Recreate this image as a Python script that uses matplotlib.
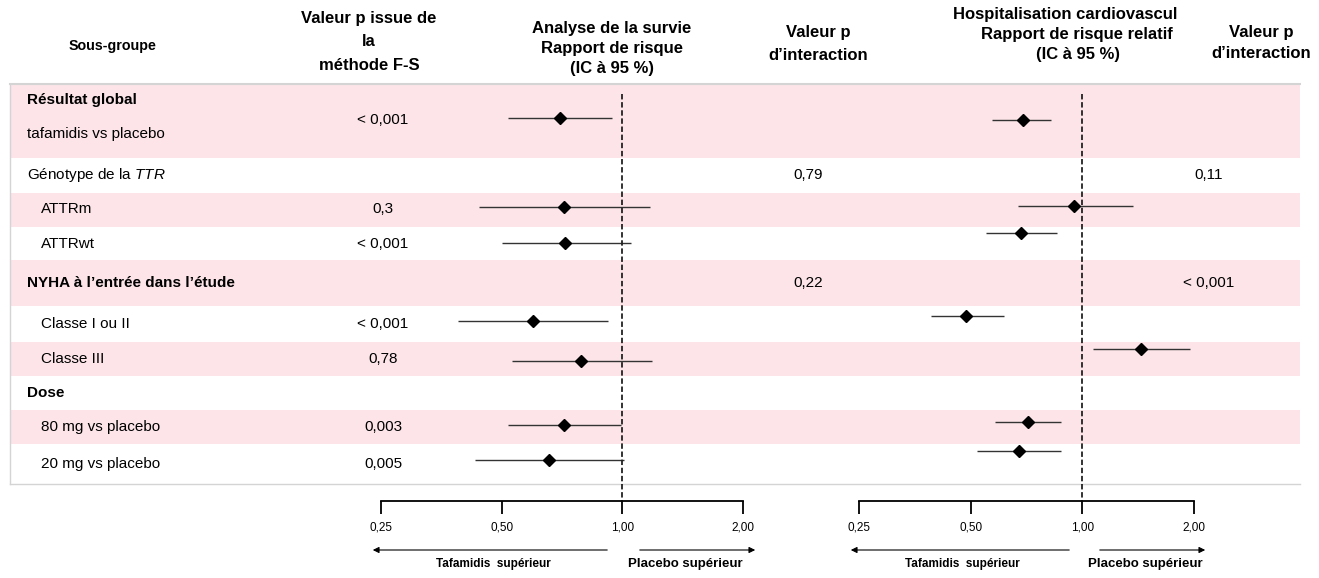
import matplotlib
matplotlib.use("Agg")
import matplotlib.pyplot as plt
from matplotlib.patches import Rectangle
from matplotlib.ticker import NullLocator

plt.rcParams['font.family'] = ['Liberation Sans', 'DejaVu Sans']
plt.rcParams['mathtext.fontset'] = 'custom'
plt.rcParams['mathtext.it'] = 'Liberation Sans:italic'
plt.rcParams['mathtext.rm'] = 'Liberation Sans'

# --- data ---
subgroups = ["tafamidis vs placebo", "ATTRm", "ATTRwt", "Classe I ou II",
             "Classe III", "80 mg vs placebo", "20 mg vs placebo"]
pval_fs = ["< 0,001", "0,3", "< 0,001", "< 0,001", "0,78", "0,003", "0,005"]

surv_hr = [0.70, 0.715, 0.72, 0.60, 0.79, 0.715, 0.655]
surv_lo = [0.52, 0.44, 0.50, 0.39, 0.53, 0.52, 0.43]
surv_hi = [0.94, 1.17, 1.05, 0.92, 1.185, 0.99, 1.01]

hosp_hr = [0.69, 0.95, 0.685, 0.485, 1.44, 0.715, 0.675]
hosp_lo = [0.57, 0.67, 0.55, 0.39, 1.07, 0.58, 0.52]
hosp_hi = [0.825, 1.37, 0.855, 0.615, 1.95, 0.875, 0.875]

group_titles = ["Résultat global", "Génotype de la $\\mathit{TTR}$",
                "NYHA à l’entrée dans l’étude", "Dose"]
surv_int = ["0,79", "0,22"]
hosp_int = ["0,11", "< 0,001"]

ticks = [0.25, 0.5, 1.0, 2.0]
tick_labels = ["0,25", "0,50", "1,00", "2,00"]

# --- layout (pixels) ---
W, H = 1319, 578
TOP, BOTTOM, AXIS_Y = 84, 484, 501
PINK = '#fce4e8'
bands = [(84, 158), (193, 227), (260, 306), (342, 376), (410, 444)]
sub_y = [134, 209, 244, 324, 359, 427, 464]
sub_x = [27, 41, 41, 41, 41, 41, 41]
pval_y = [120, 209, 244, 324, 359, 427, 464]
title_y = [100, 175, 283, 393]
title_bold = [True, False, True, True]
int_y = [175, 283]
surv_y = [118, 207, 243, 321, 361, 425, 460]
hosp_y = [120, 206, 233, 316, 349, 422, 451]

fig = plt.figure(figsize=(W / 100, H / 100), dpi=100)
bg = fig.add_axes([0, 0, 1, 1])
bg.set_xlim(0, W)
bg.set_ylim(H, 0)
bg.axis('off')

for y0, y1 in bands:
    bg.add_patch(Rectangle((10, y0), 1290, y1 - y0, color=PINK, lw=0))
bg.plot([10, 1300], [TOP, TOP], color='#d4d4d4', lw=1.5)
bg.plot([10, 1300], [BOTTOM, BOTTOM], color='#d4d4d4', lw=1)
bg.plot([10, 10], [TOP, BOTTOM], color='#d4d4d4', lw=1)

# headers
hdr = dict(fontsize=12, fontweight='bold', ha='center', va='center')
bg.text(113, 46, "Sous-groupe", fontsize=10.3, fontweight='bold',
        ha='center', va='center')
bg.text(369, 18, "Valeur p issue de", **hdr)
bg.text(369, 42, "la", **hdr)
bg.text(369, 66, "méthode F-S", **hdr)
bg.text(612, 28, "Analyse de la survie", **hdr)
bg.text(612, 48, "Rapport de risque", **hdr)
bg.text(612, 68, "(IC à 95 %)", **hdr)
bg.text(818, 33, "Valeur p", **hdr)
bg.text(818, 55, "d’interaction", **hdr)
bg.text(1065, 15, "Hospitalisation cardiovascul", **hdr)
bg.text(1077, 35, "Rapport de risque relatif", **hdr)
bg.text(1078, 55, "(IC à 95 %)", **hdr)
bg.text(1261, 32, "Valeur p", **hdr)
bg.text(1261, 53, "d’interaction", **hdr)

# row labels
for t, y, b in zip(group_titles, title_y, title_bold):
    bg.text(27, y, t, fontsize=11, fontweight='bold' if b else 'normal',
            ha='left', va='center')
for t, x, y in zip(subgroups, sub_x, sub_y):
    bg.text(x, y, t, fontsize=11, ha='left', va='center')
for p, y in zip(pval_fs, pval_y):
    bg.text(383, y, p, fontsize=11, ha='center', va='center')
for p, y in zip(surv_int, int_y):
    bg.text(808, y, p, fontsize=11, ha='center', va='center')
for p, y in zip(hosp_int, int_y):
    bg.text(1209, y, p, fontsize=11, ha='center', va='center')


def forest(x0, x1, hr, lo, hi, ys):
    ax = fig.add_axes([x0 / W, (H - AXIS_Y) / H, (x1 - x0) / W, (AXIS_Y - TOP) / H])
    ax.set_xscale('log', base=2)
    ax.set_xlim(0.25, 2)
    ax.set_ylim(AXIS_Y, TOP)
    ax.patch.set_visible(False)
    for s in ['top', 'left', 'right']:
        ax.spines[s].set_visible(False)
    ax.spines['bottom'].set_linewidth(1.3)
    ax.set_yticks([])
    ax.set_xticks(ticks)
    ax.set_xticklabels(tick_labels)
    ax.xaxis.set_minor_locator(NullLocator())
    ax.tick_params(axis='x', direction='out', length=9, width=1.3,
                   labelsize=8.5, pad=6)
    ax.hlines(ys, lo, hi, color='#333333', lw=1)
    ax.plot(hr, ys, 'D', color='black', ms=6, ls='none', clip_on=False)
    ax.plot([1, 1], [94, AXIS_Y], color='#222222', lw=1.3, ls=(0, (3, 1.5)))
    return ax


forest(381, 743, surv_hr, surv_lo, surv_hi, surv_y)
forest(859, 1194, hosp_hr, hosp_lo, hosp_hi, hosp_y)

# direction arrows and labels
arr = dict(arrowstyle='-|>', color='black', lw=0.8, mutation_scale=9)
for xs, xe in [(610, 370), (637, 758), (1072, 848), (1097, 1208)]:
    bg.annotate('', xy=(xe, 550), xytext=(xs, 550), arrowprops=arr)
lab = dict(fontsize=8.5, fontweight='bold', ha='center', va='center')
bg.text(493, 564, "Tafamidis  supérieur", **lab)
bg.text(962, 564, "Tafamidis  supérieur", **lab)
lab['fontsize'] = 9.5
bg.text(685, 564, "Placebo supérieur", **lab)
bg.text(1145, 564, "Placebo supérieur", **lab)

fig.savefig("out.png", dpi=100)
